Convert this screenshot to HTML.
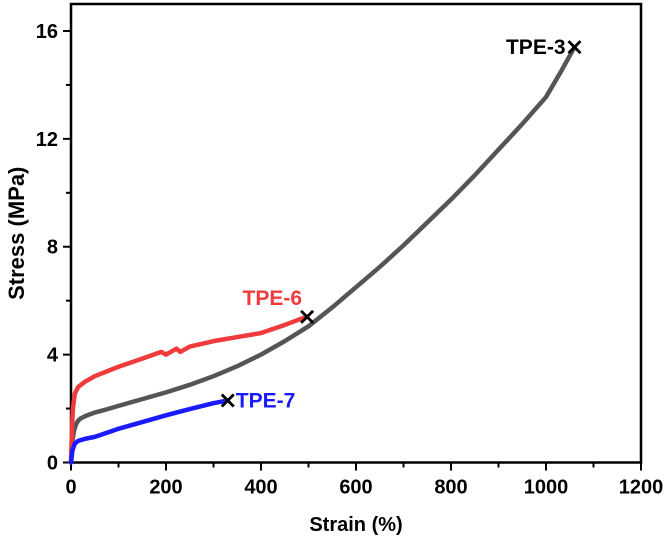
<!DOCTYPE html>
<html><head><meta charset="utf-8"><style>
html,body{margin:0;padding:0;background:#fff;width:666px;height:542px;overflow:hidden}
text{font-family:"Liberation Sans",Arial,sans-serif;font-weight:bold}
</style></head><body>
<svg id="chart" width="666" height="542" viewBox="0 0 666 542" xmlns="http://www.w3.org/2000/svg"></svg>
<script>
const xTicks=[0,200,400,600,800,1000,1200];
const yTicks=[0,4,8,12,16];
const tpe3Strain=[0,3,6,10,15,20,30,40,50,75,100,150,200,250,300,350,400,450,500,550,600,650,700,750,800,850,900,950,1000,1030,1060];
const tpe3Stress=[0,0.8,1.15,1.4,1.55,1.63,1.72,1.79,1.85,1.97,2.1,2.35,2.6,2.88,3.2,3.57,4.0,4.5,5.05,5.75,6.5,7.25,8.05,8.9,9.75,10.65,11.6,12.55,13.55,14.45,15.4];
const tpe6Strain=[0,2,4,8,15,30,50,100,150,190,200,215,222,230,250,300,350,400,450,480,497];
const tpe6Stress=[0,1.2,2.0,2.55,2.8,3.0,3.2,3.55,3.85,4.1,4.0,4.15,4.22,4.1,4.3,4.5,4.65,4.8,5.1,5.3,5.4];
const tpe7Strain=[0,3,8,15,30,50,75,100,150,200,250,300,330];
const tpe7Stress=[0,0.45,0.7,0.8,0.88,0.95,1.1,1.25,1.5,1.75,1.98,2.2,2.3];
const svg=document.getElementById('chart');
const NS='http://www.w3.org/2000/svg';
const L=71,R=641,T=4,B=462.5,xMax=1200;
const sx=v=>L+v/xMax*(R-L);
function ys(v){return B-v*26.97;}
function mk(tag,attrs){const e=document.createElementNS(NS,tag);for(const k in attrs)e.setAttribute(k,attrs[k]);svg.appendChild(e);return e;}
let f=mk('rect',{x:L,y:T,width:R-L,height:B-T,fill:'none',stroke:'#000','stroke-width':2.5});


for(let v=0;v<=1200;v+=100){
 const major=v%200===0;
 const t=mk('line',{x1:sx(v),x2:sx(v),y1:B,y2:B+(major?8:5),stroke:'#000','stroke-width':2});
 
 
}
xTicks.forEach(v=>{const t=mk('text',{x:sx(v),y:B+31,'text-anchor':'middle','font-size':20});t.textContent=v;
 
 });
for(let v=0;v<=16;v+=2){
 const major=v%4===0;
 const t=mk('line',{x1:L-(major?8:5),x2:L,y1:ys(v),y2:ys(v),stroke:'#000','stroke-width':2});
 
 
}
yTicks.forEach(v=>{const t=mk('text',{x:L-13,y:ys(v)+7,'text-anchor':'end','font-size':20});t.textContent=v;
 
 });
let xt=mk('text',{x:(L+R)/2,y:531,'text-anchor':'middle','font-size':20});xt.textContent='Strain (%)';


let yt=mk('text',{x:0,y:0,'text-anchor':'middle','font-size':22,transform:'translate(24,'+((T+B)/2)+') rotate(-90)'});yt.textContent='Stress (MPa)';


function series(xs,ys_,color,name,label,lx,ly,lc,anchor){
 const p=mk('polyline',{points:xs.map((x,i)=>sx(x)+','+ys(ys_[i])).join(' '),fill:'none',stroke:color,'stroke-width':4.5,'stroke-linejoin':'round','stroke-linecap':'round'});
 
 
 const ex=sx(xs[xs.length-1]),ey=ys(ys_[ys_.length-1]);
 const m=mk('path',{d:`M${ex-6},${ey-6}L${ex+6},${ey+6}M${ex-6},${ey+6}L${ex+6},${ey-6}`,stroke:'#000','stroke-width':2.8});
 
 
 const t=mk('text',{x:lx,y:ly,'font-size':21,fill:lc,'text-anchor':anchor});t.textContent=label;
 
 
}
series(tpe3Strain,tpe3Stress,'#555','tpe-3','TPE-3',sx(1060)-9,ys(15.4)+7,'#000','end');
series(tpe6Strain,tpe6Stress,'#ef3b3b','tpe-6','TPE-6',sx(497)-5,ys(5.4)-12,'#ef3b3b','end');
series(tpe7Strain,tpe7Stress,'#1a1aff','tpe-7','TPE-7',sx(330)+8,ys(2.3)+7,'#1a1aff','start');
</script>
</body></html>
